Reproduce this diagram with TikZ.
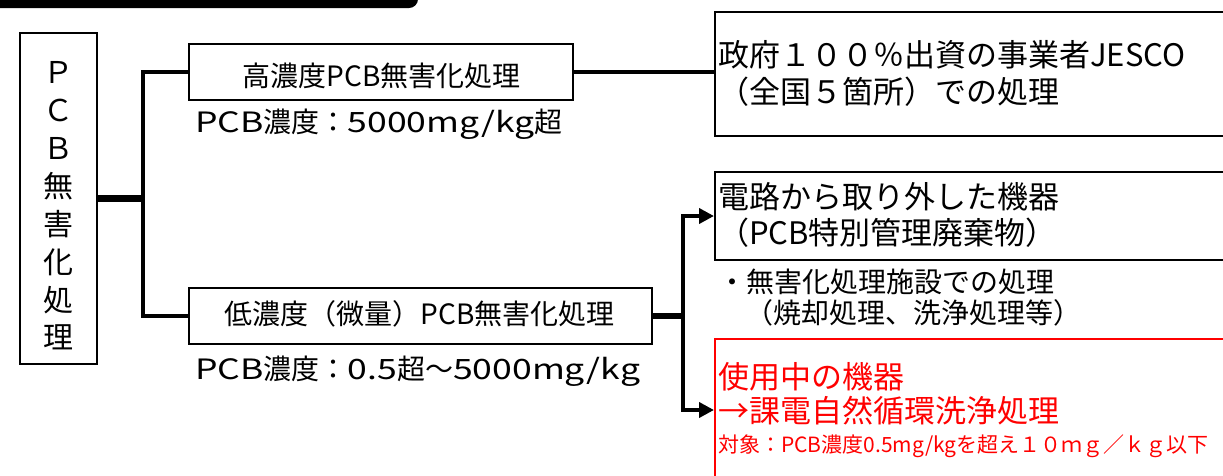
\documentclass[tikz,border=0pt]{standalone}
\usepackage{fontspec}
\setmainfont{Noto Sans CJK JP}
\newfontfamily\widelat{Noto Sans CJK JP}[FakeStretch=1.27]
\usetikzlibrary{arrows.meta,calc}
\begin{document}
\begin{tikzpicture}[x=1pt,y=-1pt,
  box/.style={draw, line width=2pt, inner sep=0, anchor=north west},
  lbl/.style={inner sep=0, anchor=west},
  fA/.style={font=\fontsize{28}{34}\selectfont},
  fB/.style={font=\fontsize{31}{37}\selectfont},
  fC/.style={font=\fontsize{21}{26}\selectfont},
  conn/.style={line width=4pt},
  arr/.style={conn, -{Triangle[length=15pt,width=15pt]}}]
\useasboundingbox (0,0) rectangle (1223,475);
\clip (0,0) rectangle (1223,475);
% top black bar
\fill[black, rounded corners=9pt] (-20,-20) rectangle (418,8);
% left box
\node[box, minimum width=77pt, minimum height=331pt] (pcb) at (19,32) {};
\node[inner sep=0, align=center, font=\fontsize{30}{37.9}\selectfont] (pcbt) at (58,206) {Ｐ\\Ｃ\\Ｂ\\無\\害\\化\\処\\理};
% high box
\node[box, minimum width=384pt, minimum height=56pt] (hi) at (188,43) {};
\node[inner sep=0, fA] (hit) at (381.5,76) {高濃度PCB無害化処理};
\node[lbl, fA] (hic) at (195,124) {{\widelat PCB}濃度：{\widelat 5000mg/kg}超};
% low box
\node[box, minimum width=463pt, minimum height=56pt] (lo) at (188,287) {};
\node[inner sep=0, fA] (lot) at (419.5,314) {低濃度（微量）PCB無害化処理};
\node[lbl, fA] (loc) at (195,371) {{\widelat PCB}濃度：{\widelat 0.5}超～{\widelat 5000mg/kg}};
% JESCO box
\node[box, minimum width=540pt, minimum height=124pt] (je) at (714,11) {};
\node[lbl, fB] (je1) at (718,54.5) {政府１００％出資の事業者JESCO};
\node[lbl, fB] (je2) at (718,92) {（全国５箇所）での処理};
% denro box
\node[box, minimum width=540pt, minimum height=88pt] (de) at (714,171) {};
\node[lbl, fB] (de1) at (718,197) {電路から取り外した機器};
\node[lbl, fB] (de2) at (718,233) {（PCB特別管理廃棄物）};
\node[lbl, fA] (bu1) at (718,282) {・無害化処理施設での処理};
\node[lbl, fA] (bu2) at (745,313) {（焼却処理、洗浄処理等）};
% red box
\node[box, draw=red, minimum width=540pt, minimum height=170pt] (rd) at (714,338) {};
\node[lbl, fB, text=red] (rd1) at (718,377) {使用中の機器};
\node[lbl, fB, text=red] (rd2) at (718,411) {→課電自然循環洗浄処理};
\node[lbl, fC, text=red] (rd3) at (718,446) {対象：PCB濃度0.5mg/kgを超え１０ｍｇ／ｋｇ以下};
% connectors
\coordinate (j1) at (143,0);
\coordinate (j2) at (683,0);
\coordinate (redin) at (714,410);
\draw[line width=7pt] (pcb.east) -- (pcb.east -| j1);
\draw[conn] (hi.west) -- (hi.west -| j1) -- (lo.west -| j1) -- (lo.west);
\draw[conn] (hi.east) -- (hi.east -| je.west);
\draw[line width=6pt] (lo.east) -- (lo.east -| j2);
\draw[arr] (lo.east -| j2) |- (de.west);
\draw[arr] (lo.east -| j2) |- (redin);
\end{tikzpicture}
\end{document}
